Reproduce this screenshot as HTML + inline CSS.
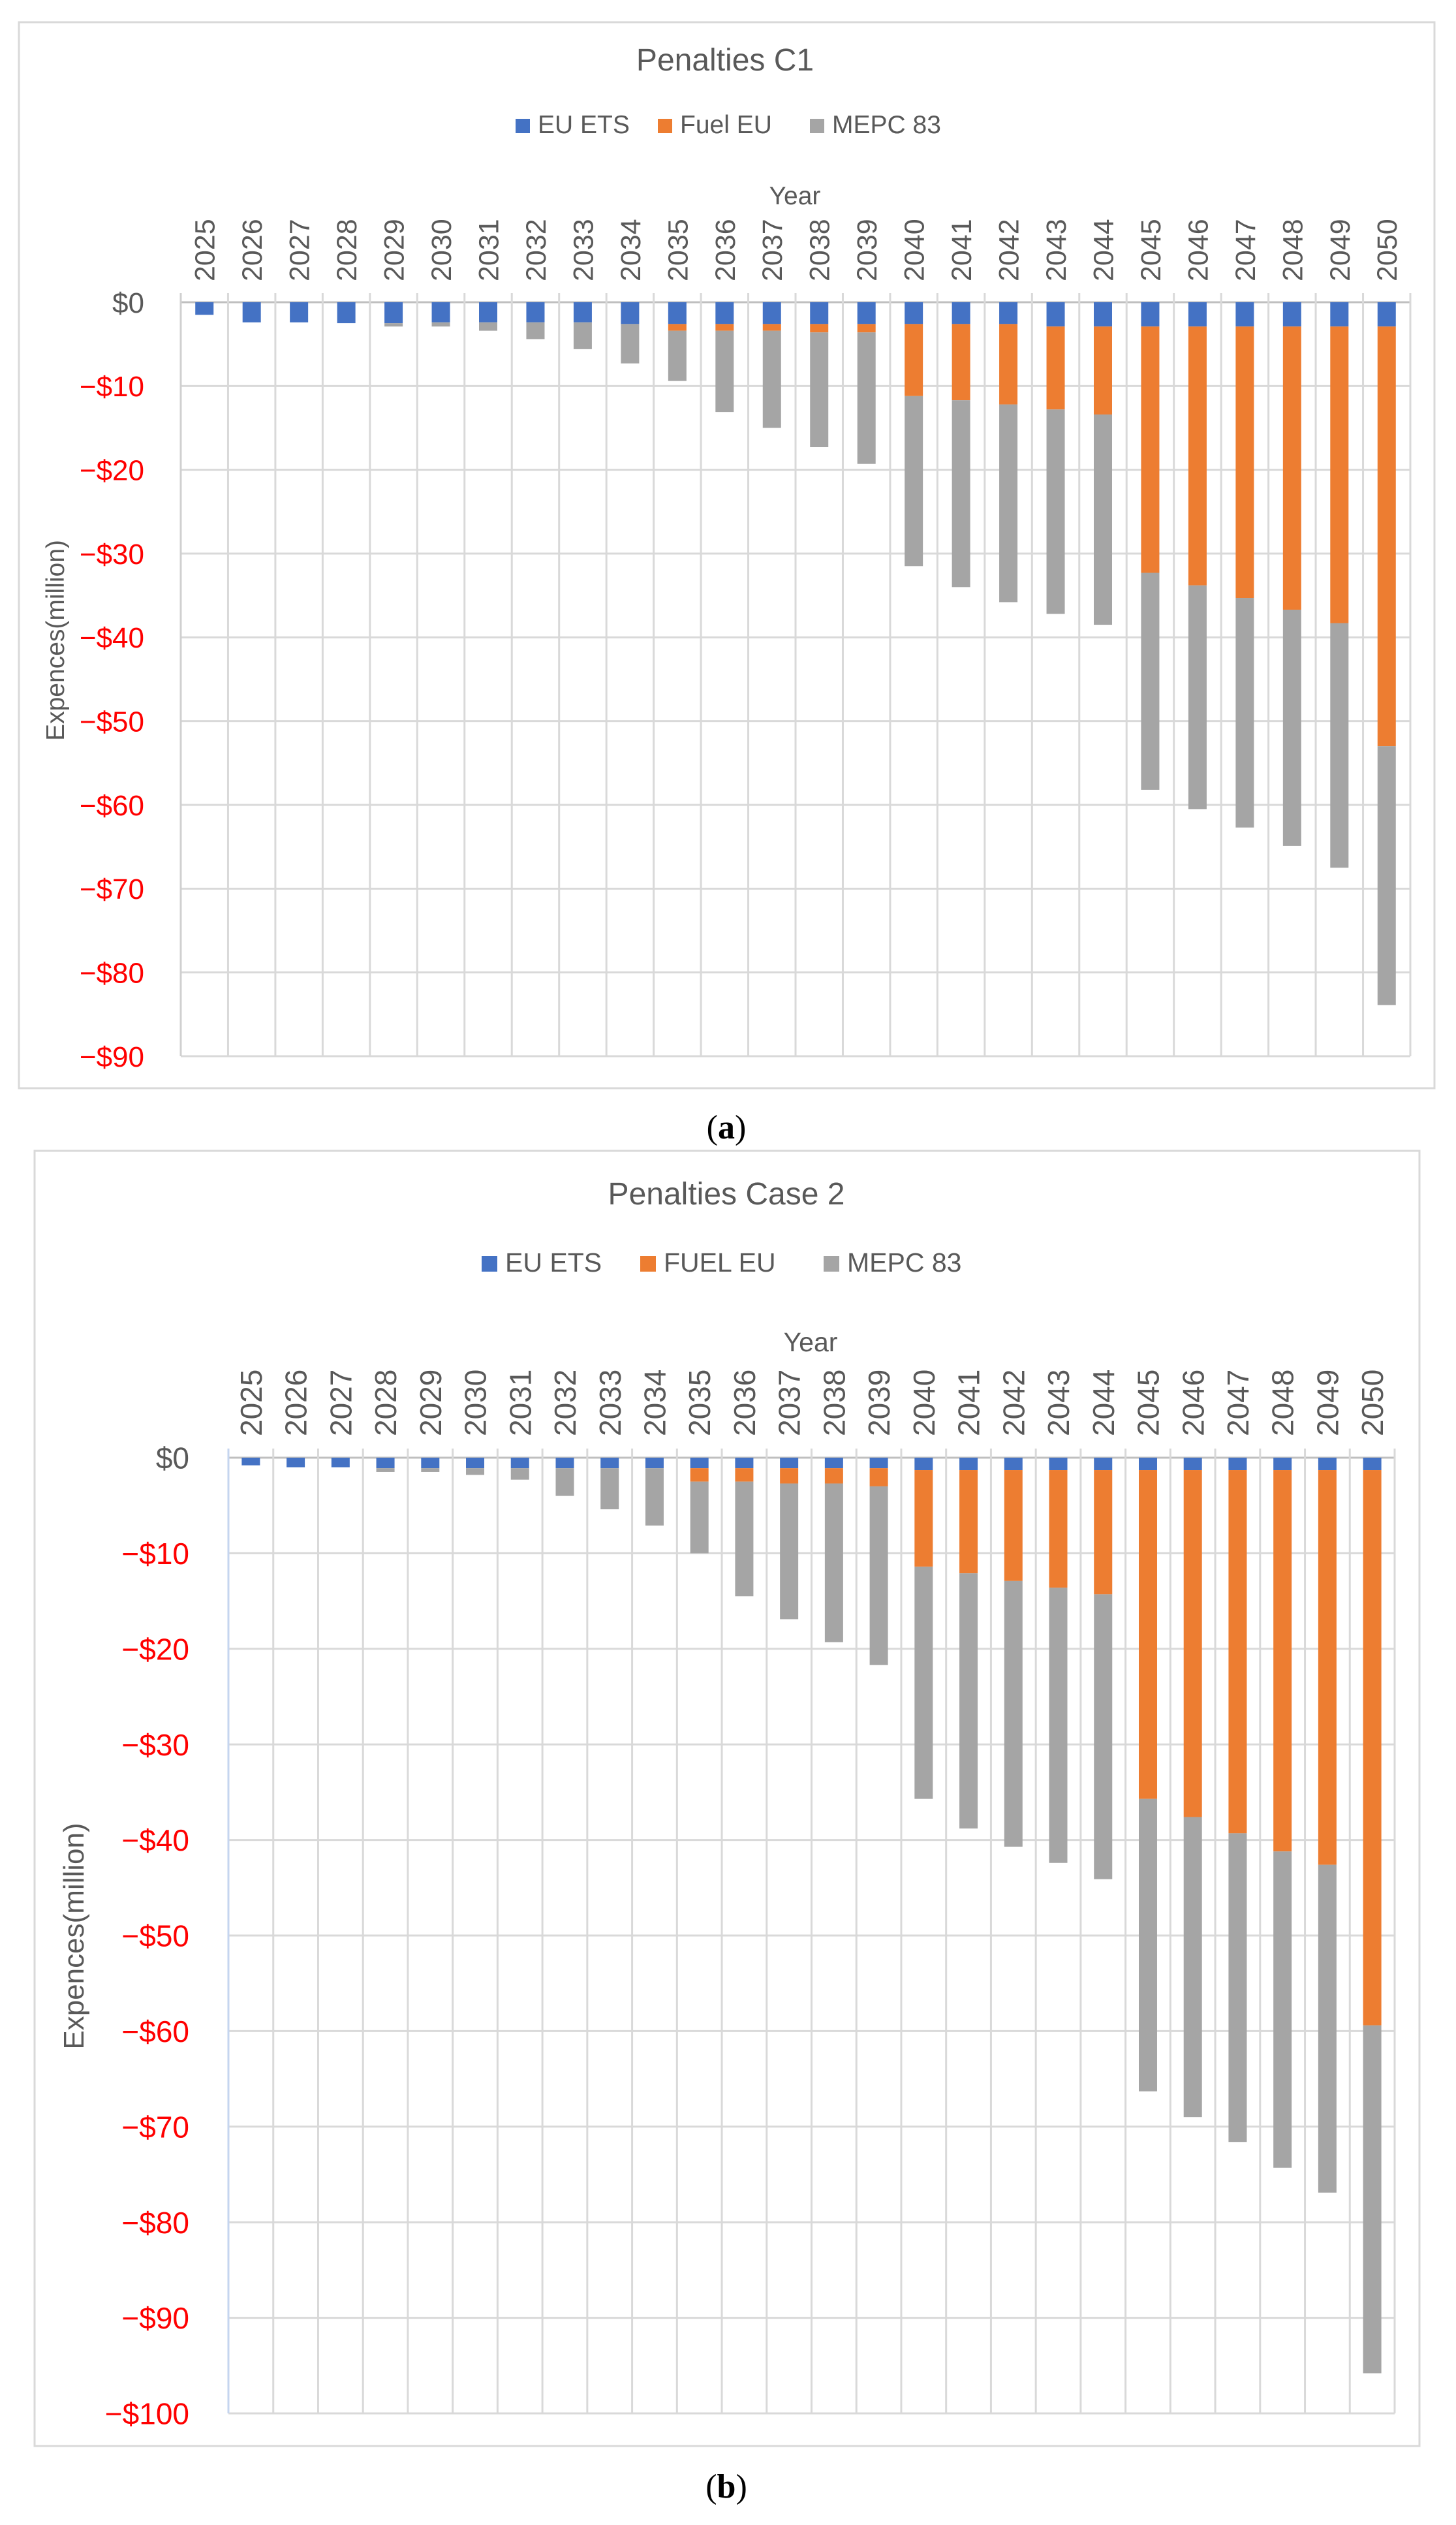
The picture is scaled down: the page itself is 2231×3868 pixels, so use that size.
<!DOCTYPE html>
<html><head><meta charset="utf-8"><title>Penalties</title>
<style>
html,body{margin:0;padding:0;background:#fff;}
body{width:2231px;height:3868px;overflow:hidden;}
svg{display:block;}
</style></head>
<body>
<svg id="fig" width="2231" height="3868" viewBox="0 0 2231 3868" xmlns="http://www.w3.org/2000/svg" font-family="'Liberation Sans', sans-serif">
  <g id="c1"></g>
  <g id="c2"></g>
  <text x="1113" y="1744" text-anchor="middle" font-family="'Liberation Serif', serif" font-size="52" fill="#000">(<tspan font-weight="bold">a</tspan>)</text>
  <text x="1113" y="3826" text-anchor="middle" font-family="'Liberation Serif', serif" font-size="52" fill="#000">(<tspan font-weight="bold">b</tspan>)</text>
</svg>
<script>
const years = ["2025","2026","2027","2028","2029","2030","2031","2032","2033","2034","2035","2036","2037","2038","2039","2040","2041","2042","2043","2044","2045","2046","2047","2048","2049","2050"];
// Chart 1 (values in $ million, positive = penalty magnitude)
const c1EuEts = [1.5,2.4,2.4,2.5,2.5,2.4,2.4,2.4,2.4,2.6,2.6,2.6,2.6,2.6,2.6,2.6,2.6,2.6,2.9,2.9,2.9,2.9,2.9,2.9,2.9,2.9];
const c1FuelEu = [0,0,0,0,0,0,0,0,0,0,0.8,0.8,0.8,1.0,1.0,8.6,9.1,9.6,9.9,10.5,29.4,30.9,32.4,33.8,35.4,50.1];
const c1Mepc = [0,0,0,0,0.4,0.5,1.0,2.0,3.2,4.7,6.0,9.7,11.6,13.7,15.7,20.3,22.3,23.6,24.4,25.1,25.9,26.7,27.4,28.2,29.2,30.9];
const c1Ticks = [0,-10,-20,-30,-40,-50,-60,-70,-80,-90];
// Chart 2
const c2EuEts = [0.8,1.0,1.0,1.1,1.1,1.1,1.1,1.1,1.1,1.1,1.1,1.1,1.1,1.1,1.1,1.3,1.3,1.3,1.3,1.3,1.3,1.3,1.3,1.3,1.3,1.3];
const c2FuelEu = [0,0,0,0,0,0,0,0,0,0,1.4,1.4,1.6,1.6,1.9,10.1,10.8,11.6,12.3,13.0,34.4,36.3,38.0,39.9,41.3,58.1];
const c2Mepc = [0,0,0,0.4,0.4,0.7,1.2,2.9,4.3,6.0,7.5,12.0,14.2,16.6,18.7,24.3,26.7,27.8,28.8,29.8,30.6,31.4,32.3,33.1,34.3,36.4];
const c2Ticks = [0,-10,-20,-30,-40,-50,-60,-70,-80,-90,-100];

const NS = "http://www.w3.org/2000/svg";
function el(parent, tag, attrs, text){
  const e = document.createElementNS(NS, tag);
  for (const k in attrs) e.setAttribute(k, attrs[k]);
  if (text !== undefined) e.textContent = text;
  parent.appendChild(e);
  return e;
}
const COLORS = ["#4472c4","#ed7d31","#a5a5a5"];

function drawChart(g, cfg){
  const fr = el(g,"rect",{x:cfg.frame[0],y:cfg.frame[1],width:cfg.frame[2]-cfg.frame[0],height:cfg.frame[3]-cfg.frame[1],fill:"#fff",stroke:"#d9d9d9","stroke-width":3});
  
  
  const t = el(g,"text",{x:cfg.titleX,y:cfg.titleY,"text-anchor":"middle","font-size":cfg.titleSize,fill:"#595959"},cfg.title);
  
  
  cfg.legend.forEach((L,i)=>{
    const sq = el(g,"rect",{x:L.x,y:cfg.legendY-cfg.legSq+4,width:cfg.legSq,height:cfg.legSq,fill:COLORS[i]});
    
    
    const lt = el(g,"text",{x:L.x+cfg.legSq+12,y:cfg.legendY+4,"font-size":cfg.legSize,fill:"#595959"},L.label);
    
    
  });
  const yt = el(g,"text",{x:cfg.yearX,y:cfg.yearY,"text-anchor":"middle","font-size":cfg.legSize,fill:"#595959"},"Year");
  
  

  const n = years.length;
  const cw = (cfg.px1-cfg.px0)/n;
  const xBand = i => cfg.px0 + i*cw;
  // magnitude m (positive) -> pixel y, downward from $0
  const yScale = m => cfg.py0 + m/cfg.vmax*(cfg.py1-cfg.py0);

  cfg.ticks.forEach(v=>{
    const y = yScale(-v);
    const gl = el(g,"line",{x1:cfg.px0,x2:cfg.px1,y1:y,y2:y,stroke:v===0?"#bfbfbf":"#d9d9d9","stroke-width":3});
    
    
    const lab = (v===0?"$0":"\u2212$"+Math.abs(v));
    const tl = el(g,"text",{x:cfg.ylabX,y:y+cfg.ylabSize*0.36,"text-anchor":"end","font-size":cfg.ylabSize,fill:v===0?"#595959":"#ff0000"},lab);
    
    
  });
  for(let i=0;i<=n;i++){
    const x = xBand(i);
    const vl = el(g,"line",{x1:x,x2:x,y1:cfg.py0-14,y2:cfg.py1,stroke:(i===0?cfg.leftAxisColor:"#d9d9d9"),"stroke-width":3});
    
    
  }
  years.forEach((yr,i)=>{
    const cx = xBand(i)+cw/2;
    const tx = el(g,"text",{x:0,y:0,"font-size":cfg.yrSize,fill:"#595959",transform:`translate(${cx+cfg.yrSize*0.36},${cfg.yrBottom}) rotate(-90)`},yr);
    
    
  });
  const bw = cfg.barW;
  years.forEach((yr,i)=>{
    const x = xBand(i)+cw/2-bw/2;
    let acc = 0;
    [cfg.s1,cfg.s2,cfg.s3].forEach((s,k)=>{
      const v = s[i];
      if(v<=0) return;
      const y0 = yScale(acc), y1 = yScale(acc+v);
      const r = el(g,"rect",{x:x,y:y0,width:bw,height:Math.max(0,y1-y0),fill:COLORS[k]});
      
      
      acc += v;
    });
  });
  const at = el(g,"text",{x:0,y:0,"text-anchor":"middle","font-size":cfg.axSize,fill:"#595959",transform:`translate(${cfg.axX},${cfg.axY}) rotate(-90)`},"Expences(million)");
  
  
}

drawChart(document.getElementById("c1"),{
  frame:[29,34,2198,1667], title:"Penalties C1", titleX:1111, titleY:108, titleSize:48,
  legendY:200, legSq:22, legSize:39,
  legend:[{x:790,label:"EU ETS"},{x:1008,label:"Fuel EU"},{x:1241,label:"MEPC 83"}],
  yearX:1218, yearY:313,
  px0:277, px1:2161, py0:463, py1:1618, vmax:90, ticks:c1Ticks,
  ylabX:221, ylabSize:44, yrSize:43, yrBottom:431, barW:28,
  s1:c1EuEts, s2:c1FuelEu, s3:c1Mepc, axX:98, axY:981, axSize:39, leftAxisColor:"#d0d0d0"
});
drawChart(document.getElementById("c2"),{
  frame:[53,1763,2175,3747], title:"Penalties Case 2", titleX:1113, titleY:1845, titleSize:48,
  legendY:1944, legSq:24, legSize:41,
  legend:[{x:738,label:"EU ETS"},{x:981,label:"FUEL EU"},{x:1262,label:"MEPC 83"}],
  yearX:1242, yearY:2070,
  px0:350, px1:2137, py0:2233, py1:3697, vmax:100, ticks:c2Ticks,
  ylabX:290, ylabSize:46, yrSize:46, yrBottom:2200, barW:28,
  s1:c2EuEts, s2:c2FuelEu, s3:c2Mepc, axX:128, axY:2966, axSize:44, leftAxisColor:"#c5d5ef"
});
</script>
</body></html>
